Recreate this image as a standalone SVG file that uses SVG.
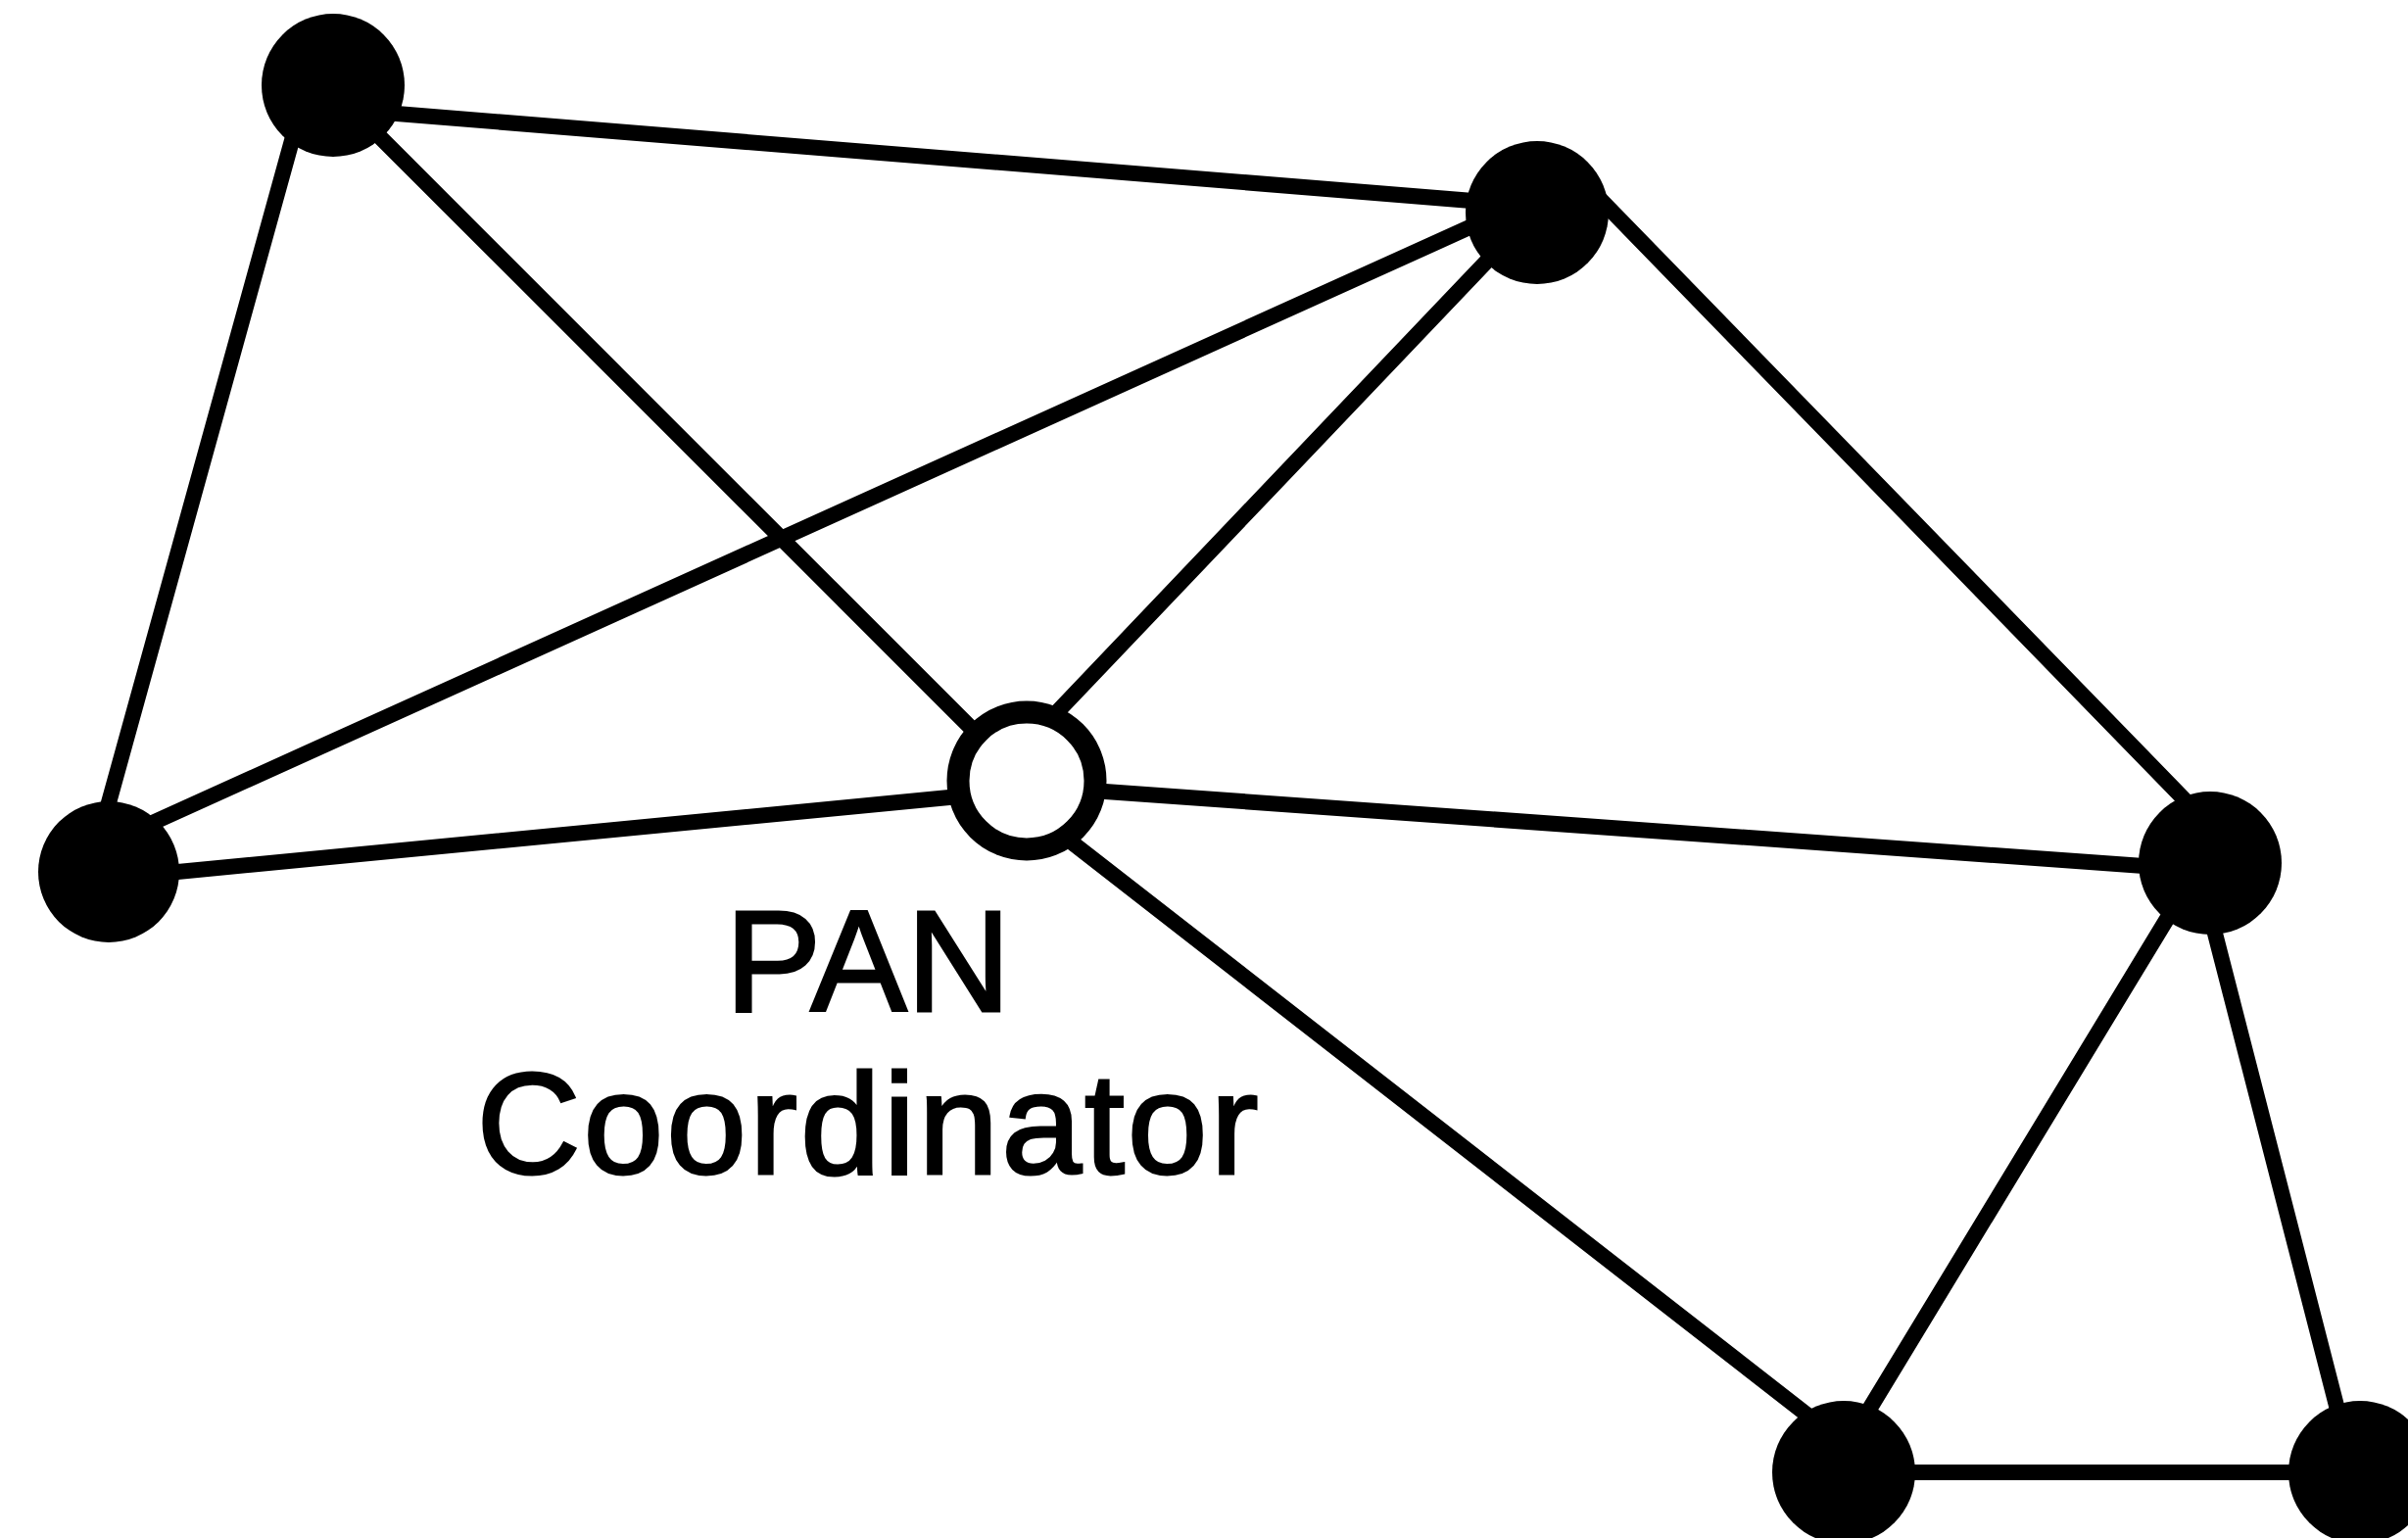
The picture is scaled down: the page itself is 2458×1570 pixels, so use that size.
<svg xmlns="http://www.w3.org/2000/svg" width="2458" height="1570" viewBox="0 0 2458 1570">
<style>
.edge{stroke:#000;stroke-width:16;stroke-linecap:round;fill:none}
.dev{fill:#000}
.coord{fill:#fff;stroke:#000;stroke-width:23}
.lbl{font-family:"Liberation Sans",Arial,sans-serif;font-size:147px;fill:#000;stroke:#000;stroke-width:3;text-anchor:middle}
</style>
<rect width="2458" height="1570" fill="#fff"/>
<g id="connectors">
<line class="edge" x1="380" y1="114" x2="1540" y2="208"/>
<line class="edge" x1="310" y1="100" x2="97" y2="870"/>
<line class="edge" x1="360" y1="112" x2="1010" y2="762"/>
<line class="edge" x1="1540" y1="214" x2="140" y2="847"/>
<line class="edge" x1="1543" y1="240" x2="1038" y2="770"/>
<line class="edge" x1="1600" y1="169" x2="2250" y2="837"/>
<line class="edge" x1="140" y1="894" x2="1000" y2="811"/>
<line class="edge" x1="1100" y1="806" x2="2230" y2="887"/>
<line class="edge" x1="1080" y1="849" x2="1870" y2="1464"/>
<line class="edge" x1="2229" y1="910" x2="1889" y2="1470"/>
<line class="edge" x1="2250" y1="910" x2="2394" y2="1470"/>
<line class="edge" x1="1882" y1="1503" x2="2409" y2="1503"/>
</g>
<g id="node-a"><circle class="dev" cx="340" cy="87" r="73"/></g>
<g id="node-b"><circle class="dev" cx="1569" cy="217" r="73"/></g>
<g id="node-c"><circle class="dev" cx="111" cy="890" r="72"/></g>
<g id="node-d"><circle class="dev" cx="2256" cy="881" r="73"/></g>
<g id="node-e"><circle class="dev" cx="1882" cy="1503" r="73"/></g>
<g id="node-f"><circle class="dev" cx="2409" cy="1503" r="73"/></g>
<g id="node-pan">
<circle class="coord" cx="1048" cy="797" r="70"/>
<text class="lbl" x="886" y="1032">PAN</text>
<text class="lbl" x="887" y="1198" letter-spacing="3">Coordinator</text>
</g>
</svg>
